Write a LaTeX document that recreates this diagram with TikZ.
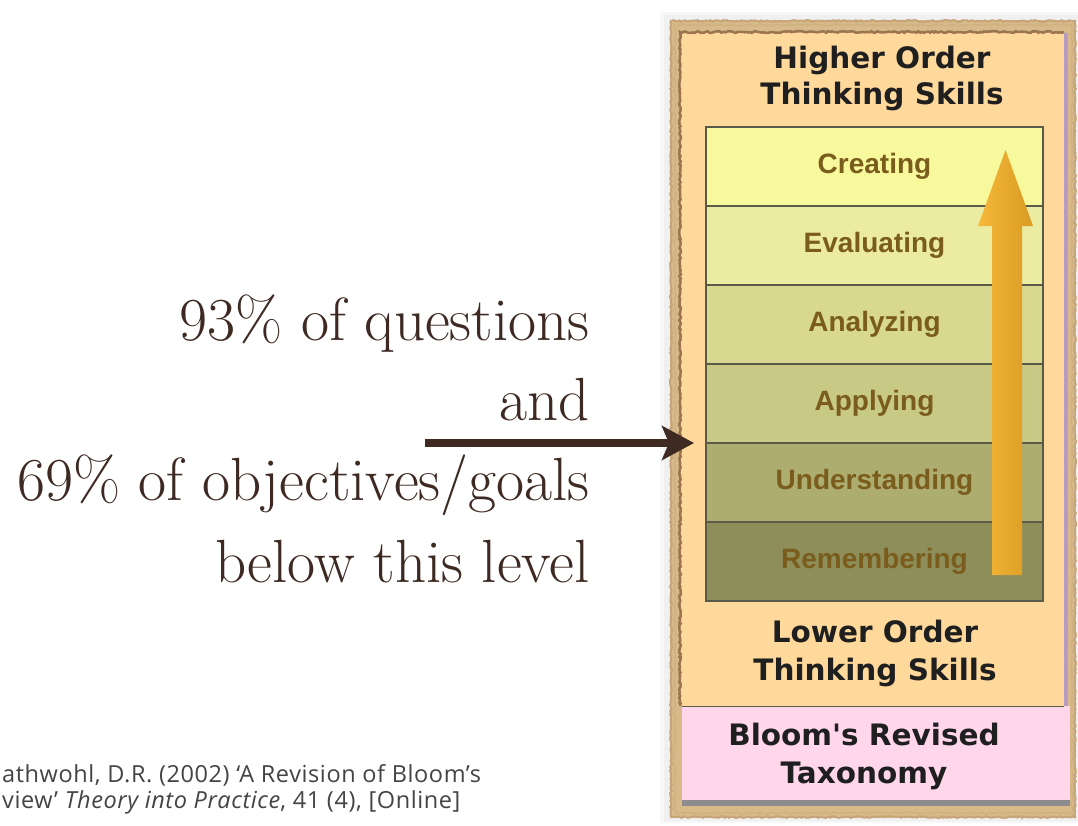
\documentclass[tikz,border=0pt]{standalone}
\usepackage{fontspec}
\newfontfamily\headfont{DejaVu Sans}
\newfontfamily\lvlfont{Liberation Sans}
\newfontfamily\citefont[LetterSpace=2.5]{Open Sans}
\usetikzlibrary{arrows.meta,decorations.pathmorphing}
\definecolor{leftbrown}{HTML}{3E2A23}
\definecolor{framebg}{HTML}{D8BA8A}
\definecolor{frameedge}{HTML}{9A7550}
\definecolor{panelbg}{HTML}{FFD89B}
\definecolor{purpleline}{HTML}{B79CC2}
\definecolor{pinkbg}{HTML}{FFD6EA}
\definecolor{lvlline}{HTML}{5A5A48}
\definecolor{lvltext}{HTML}{7A5C1C}
\definecolor{cA}{HTML}{F8F89D}
\definecolor{cB}{HTML}{EBEBA2}
\definecolor{cC}{HTML}{D8D890}
\definecolor{cD}{HTML}{C8C985}
\definecolor{cE}{HTML}{ADAD70}
\definecolor{cF}{HTML}{8E8E5A}
\definecolor{arrowL}{HTML}{F6B93A}
\definecolor{arrowR}{HTML}{D99A22}
\definecolor{citegray}{HTML}{444444}
\begin{document}
\begin{tikzpicture}[x=1pt,y=-1pt,
  lefttxt/.style={anchor=base east, text=leftbrown, font=\fontsize{61}{66}\selectfont, inner sep=0pt},
  headtxt/.style={anchor=base, font=\headfont\bfseries\fontsize{29.5}{34}\selectfont, inner sep=0pt, text=black!88},
  lvl/.style={draw=lvlline, line width=1.5pt, minimum width=337pt, minimum height=79pt, inner sep=0pt,
              font=\lvlfont\bfseries\fontsize{28}{32}\selectfont, text=lvltext},
  citetxt/.style={anchor=base west, font=\citefont\fontsize{23.5}{26}\selectfont, text=citegray, inner sep=0pt},
  rough/.style={decorate, decoration={random steps, segment length=2pt, amplitude=0.9pt}}]
\useasboundingbox (0,0) rectangle (1078,825);
\fill[white] (0,0) rectangle (1078,825);
% shadow and textured frame
\fill[black!3] (660,12) rectangle (1078,823);
\fill[black!6] (664,15) rectangle (1078,821);
\fill[framebg] (670,20) rectangle (1076,818);
\draw[framebg!70!frameedge, line width=2pt, rough] (671,21) rectangle (1075,817);
\draw[framebg!85!frameedge, line width=1.2pt, rough] (675,25) rectangle (1072,813);
% orange panel
\fill[panelbg] (681,33) rectangle (1064,706);
\draw[frameedge, line width=2.5pt, rough] (680,706) -- (680,32) -- (1064,32);
\fill[purpleline] (1064,33) rectangle (1068,706);
% pink title box
\fill[pinkbg] (682,706) rectangle (1070,800);
\draw[lvlline, line width=1pt] (682,706) -- (1064,706);
\fill[black!45] (682,800) rectangle (1070,806);
% headings
\node[headtxt] (hi1) at (882,68) {Higher Order};
\node[headtxt] (hi2) at (882,104) {Thinking Skills};
\node[headtxt] (lo1) at (875,642) {Lower Order};
\node[headtxt] (lo2) at (875,680) {Thinking Skills};
\node[headtxt] (bl1) at (864,745) {Bloom's Revised};
\node[headtxt] (bl2) at (864,783) {Taxonomy};
% levels
\node[lvl, fill=cA] (creating) at (874.5,166.5) {Creating};
\node[lvl, fill=cB] (evaluating) at (874.5,245.5) {Evaluating};
\node[lvl, fill=cC] (analyzing) at (874.5,324.5) {Analyzing};
\node[lvl, fill=cD] (applying) at (874.5,403.5) {Applying};
\node[lvl, fill=cE] (understanding) at (874.5,482.5) {Understanding};
\node[lvl, fill=cF] (remembering) at (874.5,561.5) {Remembering};
% big orange arrow
\shade[left color=arrowL, right color=arrowR]
  (992,575) -- (992,226) -- (978,226) -- (1005.5,150) -- (1033,226) -- (1022,226) -- (1022,575) -- cycle;
% left text
\node[lefttxt] (t1) at (590,340) {93\% of questions};
\node[lefttxt] (t2) at (590,420) {and};
\node[lefttxt] (t3) at (590,500) {69\% of objectives/goals};
\node[lefttxt] (t4) at (590,582) {below this level};
% pointer arrow
\coordinate (arrS) at (425,443);
\coordinate (arrE) at (694,443);
\draw[leftbrown, line width=7.5pt, -{Stealth[length=32pt,width=34pt,inset=7pt]}] (arrS) -- (arrE);
% citation
\node[citetxt] (cite1) at (2,782) {athwohl, D.R. (2002) ‘A Revision of Bloom’s};
\node[citetxt] (cite2) at (2,808) {view’ \textit{Theory into Practice}, 41 (4), [Online]};
\end{tikzpicture}
\end{document}
